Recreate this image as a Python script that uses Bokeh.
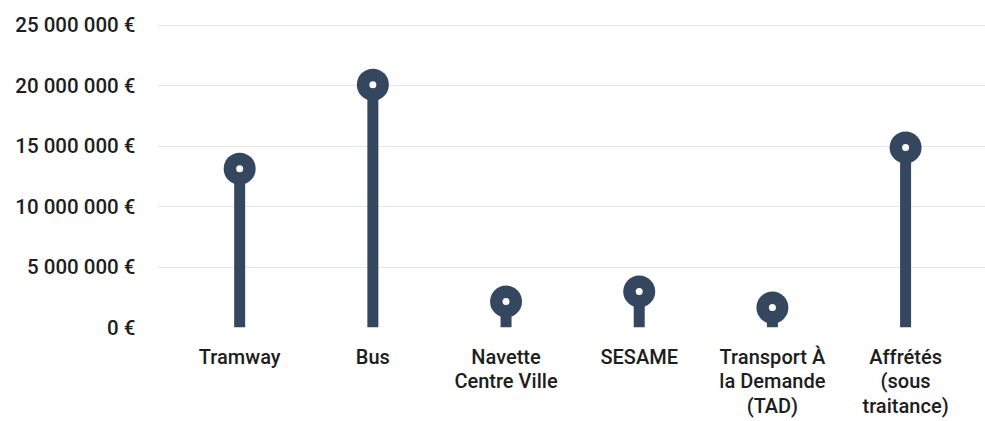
from bokeh.plotting import figure
from bokeh.models import Range1d, FixedTicker, ColumnDataSource
from bokeh.embed import file_html
from bokeh.resources import INLINE

categories = ["Tramway", "Bus", "Navette Centre Ville", "SESAME",
              "Transport À la Demande (TAD)", "Affrétés (sous traitance)"]
category_labels = ["Tramway", "Bus", "Navette\nCentre Ville", "SESAME",
                   "Transport À\nla Demande\n(TAD)", "Affrétés\n(sous\ntraitance)"]
values = [13150000, 20100000, 2150000, 2980000, 1650000, 14900000]
y_ticks = [0, 5000000, 10000000, 15000000, 20000000, 25000000]
y_tick_labels = ["0 €", "5 000 000 €", "10 000 000 €", "15 000 000 €",
                 "20 000 000 €", "25 000 000 €"]

COLOR = "#35475f"
FONT = "Roboto Medium"

xs = list(range(len(categories)))
src = ColumnDataSource(dict(x=xs, y=values, y0=[0] * len(values), name=categories))

p = figure(width=985, height=421, output_backend="svg", toolbar_location=None,
           x_range=Range1d(-0.617, 5.60), y_range=Range1d(0, 26240000),
           min_border_left=157, min_border_right=0, min_border_top=10,
           min_border_bottom=94)

p.segment(x0="x", y0="y0", x1="x", y1="y", source=src, line_color=COLOR,
          line_width=11, line_cap="butt")
p.scatter(x="x", y="y", source=src, size=32, fill_color=COLOR, line_color=None)
p.scatter(x="x", y="y", source=src, size=7, fill_color="white", line_color=None)

p.outline_line_color = None
p.xgrid.grid_line_color = None
p.ygrid.grid_line_color = "#e3e6e6"
p.ygrid.grid_line_width = 1

p.yaxis.ticker = FixedTicker(ticks=y_ticks)
p.yaxis.major_label_overrides = {t: l for t, l in zip(y_ticks, y_tick_labels)}
p.xaxis.ticker = FixedTicker(ticks=xs)
p.xaxis.major_label_overrides = {i: l for i, l in zip(xs, category_labels)}

for ax in (p.xaxis, p.yaxis):
    ax.axis_line_color = None
    ax.major_tick_line_color = None
    ax.minor_tick_line_color = None
    ax.major_tick_in = 0
    ax.major_tick_out = 0
    ax.major_label_text_font = FONT
    ax.major_label_text_color = "#1e1e1e"

p.yaxis.major_label_text_font_size = "20.5px"
p.xaxis.major_label_text_font_size = "20px"
p.xaxis.major_label_text_line_height = 1.03
p.yaxis.major_label_standoff = 22
p.xaxis.major_label_standoff = 17

open("out.html", "w").write(file_html(p, INLINE))
